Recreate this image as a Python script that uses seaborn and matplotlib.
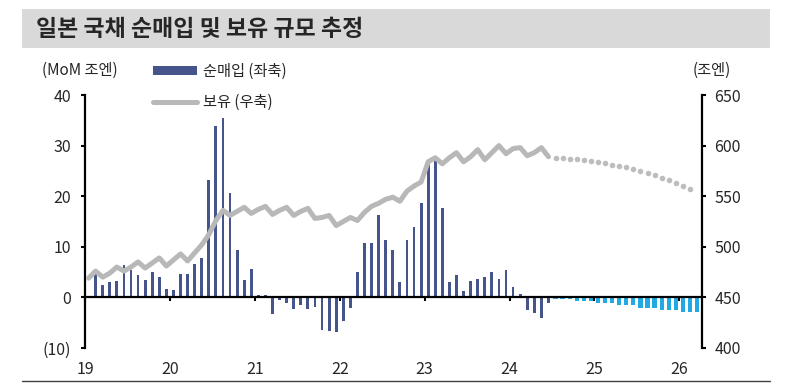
import matplotlib
matplotlib.use("Agg")
import matplotlib.pyplot as plt
from matplotlib.patches import Patch, Rectangle
from matplotlib.lines import Line2D
import seaborn as sns
import numpy as np
import pandas as pd

# ── 데이터 (월별, index 0 = 2019.01) ─────────────────────────────────────
year_labels = ["19", "20", "21", "22", "23", "24", "25", "26"]

# 순매입 실적 (조엔, 2019.02 ~ 2024.06)
net_buy_actual = [
    4.8, 2.4, 3.1, 3.2, 6.4, 5.4, 4.4, 3.4, 5.0, 4.1, 1.7,               # 2019
    1.4, 4.7, 4.7, 6.6, 7.7, 23.3, 33.9, 35.4, 20.7, 9.4, 3.5, 5.6,      # 2020
    0.5, 0.5, -3.3, -0.5, -1.2, -2.2, -1.6, -2.3, -1.9, -6.4, -6.6, -6.9,  # 2021
    -4.6, -2.0, 5.0, 10.7, 10.7, 16.3, 11.3, 9.4, 3.1, 11.3, 13.9, 18.6,   # 2022
    26.4, 26.9, 17.6, 3.1, 4.5, 1.2, 3.3, 3.6, 4.0, 5.0, 3.6, 5.4,      # 2023
    2.1, 0.7, -2.5, -3.0, -4.0, -1.1,                                   # 2024 상반기
]
# 순매입 추정 (2024.07 ~ 2026.03)
net_buy_forecast = [
    -0.3, -0.3, -0.3, -0.8, -0.8, -0.8, -1.2, -1.2, -1.2, -1.6, -1.6,
    -1.6, -2.1, -2.1, -2.1, -2.4, -2.4, -2.4, -2.8, -2.8, -2.8,
]

# 보유 잔액 실적 (조엔, 2019.01 ~ 2024.06)
holdings_actual = [
    469, 476, 470, 474, 480, 476, 480, 485, 479, 484, 489, 481,
    487, 493, 486, 494, 502, 512, 526, 536, 531, 535, 539, 533,
    537, 540, 532, 536, 539, 531, 535, 538, 528, 529, 531, 521,
    525, 529, 526, 534, 540, 543, 547, 549, 545, 555, 560, 564,
    584, 588, 582, 588, 593, 584, 589, 596, 586, 593, 600, 592,
    597, 598, 590, 593, 598, 589,
]
# 보유 잔액 추정 (2024.07 ~ 2026.02)
holdings_forecast = [
    588, 588, 587, 587, 586, 585, 584, 583, 581, 580,
    579, 577, 575, 573, 571, 568, 566, 563, 560, 557,
]

W, H = 786, 386
NAVY = "#45558C"
SKY = "#21A9E1"
GRAY = "#B8B8B8"
DOT = "#BDBDBD"

sns.set_theme(style="white")
plt.rcParams["font.family"] = ["Noto Sans CJK KR", "DejaVu Sans"]

fig = plt.figure(figsize=(W / 100, H / 100), dpi=100)
ax = fig.add_axes([85 / W, 38 / H, 617 / W, 253 / H])

act = pd.DataFrame({"m": np.arange(1, 1 + len(net_buy_actual)), "v": net_buy_actual})
fc_start = 1 + len(net_buy_actual)
fc = pd.DataFrame({"m": np.arange(fc_start, fc_start + len(net_buy_forecast)), "v": net_buy_forecast})

sns.barplot(data=act, x="m", y="v", native_scale=True, width=0.4, color=NAVY,
            saturation=1, linewidth=0, errorbar=None, ax=ax)
sns.barplot(data=fc, x="m", y="v", native_scale=True, width=0.6, color=SKY,
            saturation=1, linewidth=0, errorbar=None, ax=ax)

ax2 = ax.twinx()
hold = pd.DataFrame({"m": np.arange(len(holdings_actual)), "v": holdings_actual})
hold_fc = pd.DataFrame({"m": np.arange(len(holdings_actual), len(holdings_actual) + len(holdings_forecast)),
                        "v": holdings_forecast})
sns.lineplot(data=hold, x="m", y="v", color=GRAY, lw=3.6, ax=ax2,
             solid_capstyle="round", solid_joinstyle="round")
sns.scatterplot(data=hold_fc, x="m", y="v", color=DOT, s=16, linewidth=0, ax=ax2)

# 축 설정
ax.set_xlim(-0.4, 86.7)
ax.set_ylim(-10, 40)
ax.set_yticks([-10, 0, 10, 20, 30, 40])
ax.set_yticklabels(["(10)", "0", "10", "20", "30", "40"])
ax.set_xticks([12 * k - 0.5 for k in range(len(year_labels))])
ax.set_xticklabels(year_labels)
ax.set_xlabel("")
ax.set_ylabel("")
ax2.set_ylim(400, 650)
ax2.set_yticks([400, 450, 500, 550, 600, 650])
ax2.set_xlabel("")
ax2.set_ylabel("")

for s in ["top", "right"]:
    ax.spines[s].set_visible(False)
for s in ["top", "left", "bottom"]:
    ax2.spines[s].set_visible(False)
ax.spines["bottom"].set_position(("data", 0))
for sp in [ax.spines["left"], ax.spines["bottom"], ax2.spines["right"]]:
    sp.set_color("black")
    sp.set_linewidth(1.6)

ax.tick_params(axis="y", direction="out", length=3, width=1.5, color="black",
               labelsize=11.5, pad=7, left=True)
ax.tick_params(axis="x", direction="out", length=3, width=1.5, color="black",
               labelsize=11.5, pad=43, bottom=True)
ax2.tick_params(axis="y", direction="out", length=3, width=1.5, color="black",
                labelsize=11.5, pad=6, right=True)

# 제목 바
fig.patches.append(Rectangle((22 / W, 1 - 48 / H), (770 - 22) / W, 39 / H,
                             transform=fig.transFigure, facecolor="#D9D9D9",
                             edgecolor="none", zorder=0))
fig.text(36 / W, 1 - 29 / H, "일본 국채 순매입 및 보유 규모 추정", fontsize=16.5,
         fontweight="bold", va="center", ha="left")
fig.add_artist(Line2D([22 / W, 770 / W], [1 - 381 / H, 1 - 381 / H],
                      color="#404040", lw=1))

# 단위
fig.text(42 / W, 1 - 70 / H, "(MoM 조엔)", fontsize=11, va="center", ha="left")
fig.text(693 / W, 1 - 70 / H, "(조엔)", fontsize=11, va="center", ha="left")

# 범례
handles = [Patch(facecolor=NAVY, edgecolor="none"),
           Line2D([], [], color=GRAY, lw=3.6, solid_capstyle="round")]
fig.legend(handles, ["순매입 (좌축)", "보유 (우축)"], loc="upper left",
           bbox_to_anchor=(153 / W, 1 - 63 / H), frameon=False, fontsize=11,
           handlelength=2.9, handleheight=0.55, handletextpad=0.35,
           labelspacing=0.9, borderpad=0, borderaxespad=0)

fig.savefig("out.png", dpi=100)
